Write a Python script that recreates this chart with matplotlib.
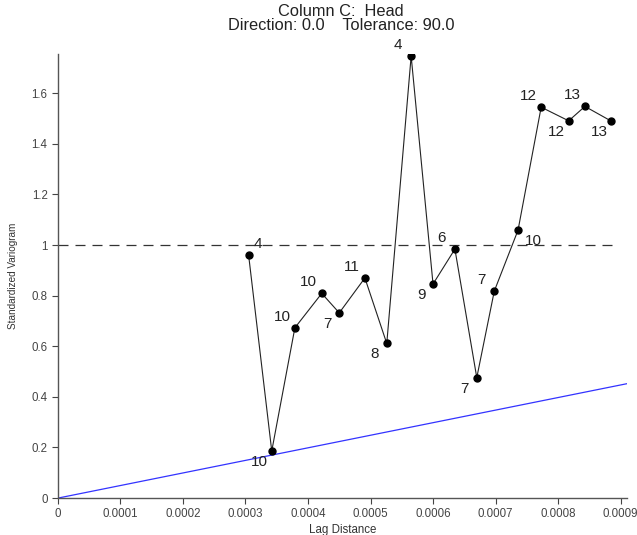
import matplotlib.pyplot as plt

plt.rcParams['font.family'] = ['Liberation Sans', 'DejaVu Sans']

# средние расстояния лагов и значения стандартизованной вариограммы
lag = [0.000305, 0.000342, 0.000379, 0.000422, 0.000450, 0.000491, 0.000526,
       0.000565, 0.000600, 0.000635, 0.000670, 0.000698, 0.000736, 0.000773,
       0.000817, 0.000843, 0.000885]
gamma = [0.960, 0.186, 0.673, 0.809, 0.732, 0.870, 0.611, 1.747, 0.846, 0.984,
         0.476, 0.818, 1.059, 1.545, 1.491, 1.548, 1.490]
pairs = [4, 10, 10, 10, 7, 11, 8, 4, 9, 6, 7, 7, 10, 12, 12, 13, 13]

# модель: линейная вариограмма
model_x = [0, 0.00091]
model_y = [0, 0.452]
sill = 1.0
sill_end = 0.00089

x_ticks = [0, 0.0001, 0.0002, 0.0003, 0.0004, 0.0005, 0.0006, 0.0007, 0.0008, 0.0009]
x_labels = ['0', '0.0001', '0.0002', '0.0003', '0.0004', '0.0005', '0.0006',
            '0.0007', '0.0008', '0.0009']
y_ticks = [0, 0.2, 0.4, 0.6, 0.8, 1.0, 1.2, 1.4, 1.6]
y_labels = ['0', '0.2', '0.4', '0.6', '0.8', '1', '1.2', '1.4', '1.6']

# где подписывать число пар относительно точки
place = ['ur', 'll', 'ul', 'ul', 'll', 'ul', 'll', 'ul', 'll', 'ul',
         'll', 'ul', 'lr', 'ul', 'll', 'ul', 'll']
offsets = {'ur': (9, 11), 'ul': (-13, 11), 'll': (-12, -11), 'lr': (15, -11)}

fig = plt.figure(figsize=(6.37, 5.35), dpi=100)
ax = fig.add_axes([0.091, 0.069, 0.893, 0.830])

ax.plot(model_x, model_y, color='#3333ff', lw=0.9)
ax.plot([0, sill_end], [sill, sill], color='#333333', lw=0.9, dashes=(8, 5.6))
ax.plot(lag, gamma, color='#222222', lw=0.8, marker='o', ms=5,
        markerfacecolor='black', markeredgecolor='black')

for x, y, n, p in zip(lag, gamma, pairs, place):
    ax.annotate(str(n), (x, y), xytext=offsets[p], textcoords='offset pixels',
                ha='center', va='center', fontsize=11, color='#222222')

ax.set_xlim(0, 0.00091)
ax.set_ylim(0, 1.755)
ax.set_xticks(x_ticks)
ax.set_xticklabels(x_labels)
ax.set_yticks(y_ticks)
ax.set_yticklabels(y_labels)
ax.tick_params(labelsize=8.3, colors='#444444', length=4, width=0.8)
ax.tick_params(axis='x', pad=3)

for side in ['top', 'right']:
    ax.spines[side].set_visible(False)
for side in ['left', 'bottom']:
    ax.spines[side].set_color('#555555')
    ax.spines[side].set_linewidth(1.0)

ax.set_xlabel('Lag Distance', fontsize=8.3, color='#333333', labelpad=3)
ax.set_ylabel('Standardized Variogram', fontsize=7.2, color='#333333', labelpad=10)
fig.text(0.535, 0.993, 'Column C:  Head\nDirection: 0.0    Tolerance: 90.0',
         ha='center', va='top', fontsize=11.8, color='#222222', linespacing=0.95)

fig.savefig('out.png', dpi=100)
